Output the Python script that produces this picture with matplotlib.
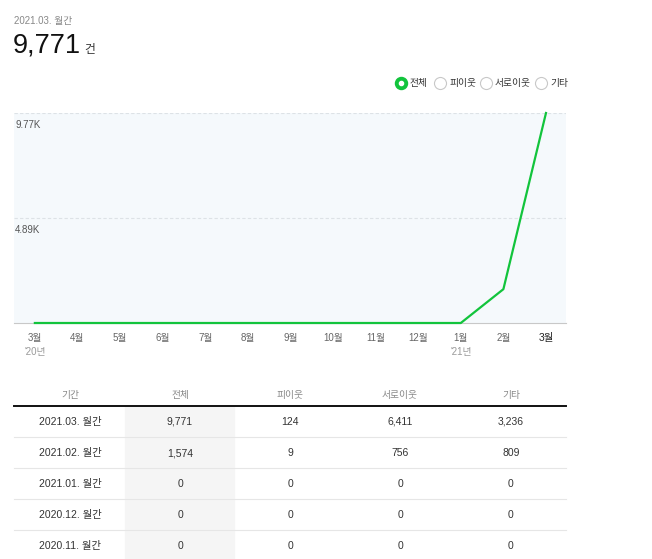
import numpy as np
import matplotlib.pyplot as plt
from matplotlib.patches import Rectangle

plt.rcParams['font.family'] = ['Liberation Sans', 'Noto Sans CJK KR', 'DejaVu Sans']

# chart data
months = ['3월', '4월', '5월', '6월', '7월', '8월', '9월', '10월', '11월', '12월', '1월', '2월', '3월']
total = [0, 0, 0, 0, 0, 0, 0, 0, 0, 0, 0, 1574, 9771]
year_marks = [(0, "'20년"), (10, "'21년")]
y_ticks = [4885, 9771]
y_tick_labels = ['4.89K', '9.77K']

legend_labels = ['전체', '피이웃', '서로이웃', '기타']

# table data
table_cols = ['기간', '전체', '피이웃', '서로이웃', '기타']
periods = ['2021.03. 월간', '2021.02. 월간', '2021.01. 월간', '2020.12. 월간', '2020.11. 월간']
col_total = [9771, 1574, 0, 0, 0]
col_neighbor = [124, 9, 0, 0, 0]
col_mutual = [6411, 756, 0, 0, 0]
col_other = [3236, 809, 0, 0, 0]

W, H = 652, 559
GREEN = '#12c43c'
fig = plt.figure(figsize=(W / 100, H / 100), dpi=100)

# overlay axes in pixel coords for header, legend and table
ov = fig.add_axes([0, 0, 1, 1], zorder=-1)
ov.set_xlim(0, W)
ov.set_ylim(H, 0)
ov.axis('off')

ov.text(14, 24, '2021.03. 월간', fontsize=7, color='#888888', va='baseline', ha='left')
ov.text(13, 53, f'{total[-1]:,}', fontsize=19.5, color='#111111', va='baseline', ha='left')
ov.text(84, 53, '건', fontsize=8.5, color='#333333', va='baseline', ha='left')

# legend (radio buttons)
leg_x = [401, 440, 486, 541]
for i, (lx, lab) in enumerate(zip(leg_x, legend_labels)):
    if i == 0:
        ov.scatter(lx, 83, s=75, color=GREEN, zorder=3)
        ov.scatter(lx, 83, s=9, color='white', zorder=4)
    else:
        ov.scatter(lx, 83, s=75, facecolor='white', edgecolor='#c8c8c8', linewidth=0.8, zorder=3)
    ov.text(lx + 9, 83, lab, fontsize=7, color='#333333', va='center', ha='left')

# table
col_x = [70, 180, 290, 400, 511]
ov.add_patch(Rectangle((125, 406), 109, H - 406, color='#f5f5f5', zorder=0))
for cx, c in zip(col_x, table_cols):
    ov.text(cx, 395, c, fontsize=7, color='#888888', ha='center', va='center')
ov.plot([14, 566], [406, 406], color='#111111', lw=1.4)
for i in range(len(periods)):
    ry = 421 + 31 * i
    row = [periods[i], f'{col_total[i]:,}', f'{col_neighbor[i]:,}', f'{col_mutual[i]:,}', f'{col_other[i]:,}']
    for cx, v in zip(col_x, row):
        ov.text(cx, ry + 4, v, fontsize=7.5, color='#333333', ha='center', va='baseline')
    if i < len(periods) - 1:
        ov.plot([14, 566], [ry + 16, ry + 16], color='#e6e6e6', lw=0.8)

# line chart
ax = fig.add_axes([14 / W, (H - 323) / H, 552 / W, 210 / H])
ax.set_facecolor('#f5f9fc')
x = np.arange(len(months))
ax.plot(x, total, color=GREEN, lw=1.6, clip_on=False, zorder=3)
ax.set_xlim(-0.49, 12.47)
ax.set_ylim(0, 9771)
for s in ['top', 'left', 'right']:
    ax.spines[s].set_visible(False)
ax.spines['bottom'].set_color('#c8c8c8')
ax.spines['bottom'].set_linewidth(0.8)

for v, lab in zip(y_ticks, y_tick_labels):
    ax.axhline(v, color='#dde2e6', ls=(0, (3, 2)), lw=0.8, zorder=1)
    ax.annotate(lab, (-0.49, v), xytext=(1, -12), textcoords='offset pixels',
                fontsize=7, color='#555555', ha='left', va='center')

ax.set_yticks([])
ax.set_xticks(x)
ax.set_xticklabels(months, fontsize=7, color='#666666')
ax.tick_params(axis='x', length=0, pad=7)
ax.get_xticklabels()[-1].set_color('#222222')
ax.get_xticklabels()[-1].set_fontsize(7.5)

for i, lab in year_marks:
    ax.annotate(lab, (i, 0), xytext=(0, -29), textcoords='offset pixels',
                fontsize=7, color='#999999', ha='center', va='center', annotation_clip=False)

fig.savefig('out.png', dpi=100)
